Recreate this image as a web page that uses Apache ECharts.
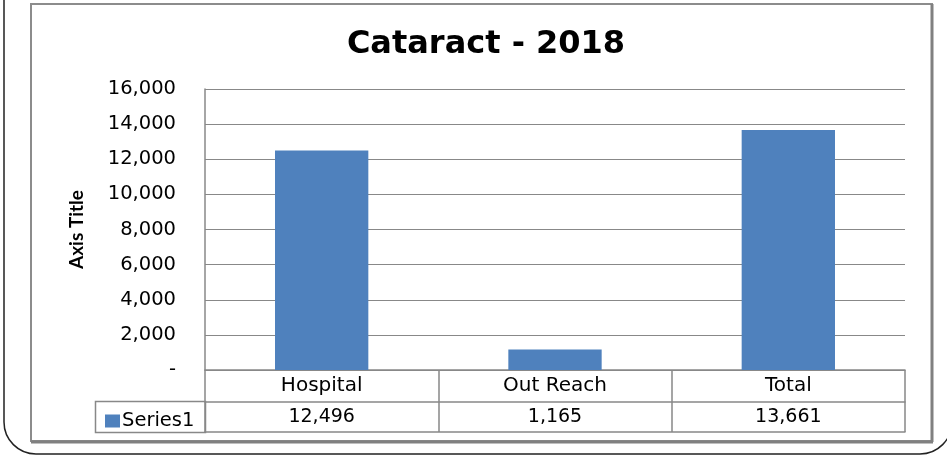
<!DOCTYPE html>
<html>
<head>
<meta charset="utf-8">
<script src="https://cdn.jsdelivr.net/npm/echarts@6/dist/echarts.min.js"></script>
<style>
html,body{margin:0;padding:0;background:#fff;}
#chart{width:947px;height:456px;}
</style>
</head>
<body>
<div id="chart"></div>
<script>
var categories = ['Hospital', 'Out Reach', 'Total'];
var seriesName = 'Series1';
var values = [12496, 1165, 13661];
var yTicks = { min: 0, max: 16000, interval: 2000 };
var titleText = 'Cataract - 2018';
var yAxisTitle = 'Axis Title';

function fmt(v) {
  return v === 0 ? '-' : Number(v).toLocaleString('en-US');
}

var chart = echarts.init(document.getElementById('chart'), null, {renderer: 'canvas'});
var lineColor = '#888888';
var font = 'DejaVu Sans';

chart.setOption({
  backgroundColor: '#ffffff',
  animation: false,
  title: {
    text: titleText,
    left: 481,
    top: 24,
    textAlign: 'center',
    textStyle: { fontFamily: font, fontWeight: 'bold', fontSize: 32, color: '#000' }
  },
  legend: {
    data: [seriesName],
    left: 100,
    top: 406,
    icon: 'rect',
    itemWidth: 15,
    itemHeight: 13,
    itemGap: 4,
    textStyle: { fontFamily: font, fontSize: 19.5, color: '#000', padding: [0, 0, 0, -3] }
  },
  grid: { left: 205, right: 42, top: 89, bottom: 86 },
  xAxis: [
    {
      type: 'category',
      data: categories,
      position: 'bottom',
      axisLine: { show: true, lineStyle: { color: lineColor, width: 1.5 } },
      axisTick: { show: true, alignWithLabel: false, length: 62, lineStyle: { color: lineColor, width: 1.5 } },
      axisLabel: { margin: 6, fontFamily: font, fontSize: 20, color: '#000' }
    },
    {
      type: 'category',
      data: categories,
      position: 'bottom',
      offset: 32,
      axisLine: { show: true, lineStyle: { color: lineColor, width: 1.5 } },
      axisTick: { show: false },
      axisLabel: {
        margin: 6, fontFamily: font, fontSize: 19, color: '#000',
        formatter: function (v, i) { return fmt(values[i]); }
      }
    },
    {
      type: 'category',
      data: categories,
      position: 'bottom',
      offset: 62,
      axisLine: { show: true, lineStyle: { color: lineColor, width: 1.5 } },
      axisTick: { show: false },
      axisLabel: { show: false }
    }
  ],
  yAxis: {
    type: 'value',
    min: yTicks.min,
    max: yTicks.max,
    interval: yTicks.interval,
    name: yAxisTitle,
    nameLocation: 'middle',
    nameRotate: 90,
    nameGap: 119,
    nameTextStyle: { fontFamily: 'Lato', fontWeight: 'bold', fontSize: 19, color: '#000' },
    axisLine: { show: true, lineStyle: { color: lineColor, width: 1.5 } },
    axisTick: { show: false },
    splitLine: { show: true, lineStyle: { color: lineColor, width: 1.2 } },
    axisLabel: {
      margin: 29, fontFamily: font, fontSize: 19.5, color: '#000',
      formatter: function (v) { return fmt(v); }
    }
  },
  series: [{
    name: seriesName,
    type: 'bar',
    data: values,
    barCategoryGap: '60%',
    itemStyle: { color: '#4F81BD' }
  }],
  graphic: [
    { type: 'rect', z: -1, shape: { x: 4, y: -40, width: 948, height: 494, r: 32 },
      style: { fill: 'none', stroke: '#222', lineWidth: 1.5 } },
    { type: 'rect', z: -1, shape: { x: 31, y: 4, width: 901, height: 437 },
      style: { fill: '#fff', stroke: '#8c8c8c', lineWidth: 2 } },
    { type: 'line', z: 0, shape: { x1: 932, y1: 4, x2: 932, y2: 442 },
      style: { stroke: '#808080', lineWidth: 3 } },
    { type: 'line', z: 0, shape: { x1: 31, y1: 442, x2: 933, y2: 442 },
      style: { stroke: '#808080', lineWidth: 3 } },
    { type: 'rect', z: 0, shape: { x: 95.5, y: 401.5, width: 110, height: 31 },
      style: { fill: 'none', stroke: lineColor, lineWidth: 1.5 } }
  ]
});
</script>
</body>
</html>
